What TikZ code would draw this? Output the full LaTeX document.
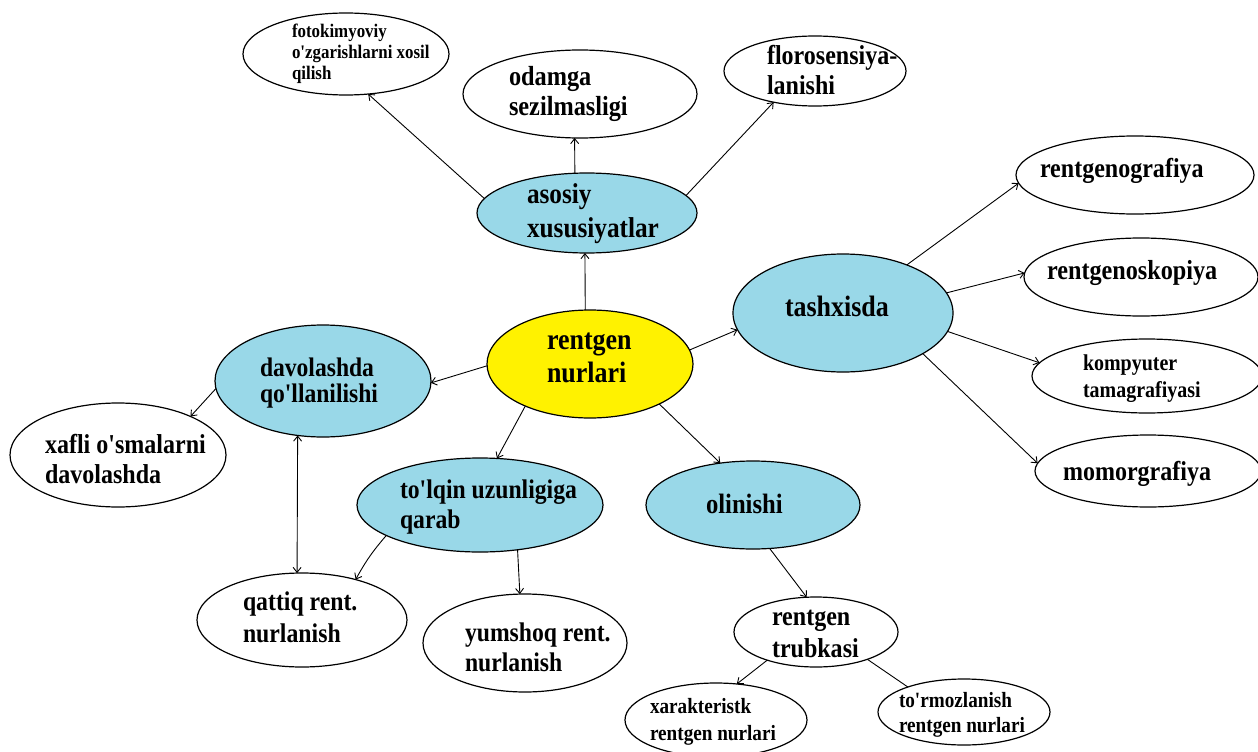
\documentclass[tikz,border=0pt]{standalone}
\usepackage{fontspec}
\newfontfamily\lab[FakeStretch=0.88,Ligatures=TeXOff]{Liberation Serif}
\usetikzlibrary{shapes.geometric,arrows.meta}
\definecolor{lblue}{RGB}{153,216,232}
\definecolor{lyellow}{RGB}{255,242,0}
\tikzset{
  ell/.style={draw=black, ellipse, line width=1.2pt, inner sep=0pt, outer sep=0pt},
  sz/.style 2 args={minimum width=#1pt, minimum height=#2pt},
  lbl/.style={anchor=base west, align=left, inner sep=0pt, outer sep=0pt},
  fs/.style 2 args={font=\lab\bfseries\fontsize{#1}{#2}\selectfont},
  con/.style={line width=0.9pt, -{Straight Barb[length=5pt,width=8pt]}},
  con2/.style={line width=0.9pt, {Straight Barb[length=5pt,width=8pt]}-{Straight Barb[length=5pt,width=8pt]}},
  link/.style={line width=0.9pt},
}
\begin{document}
\begin{tikzpicture}[x=1pt,y=-1pt]
\useasboundingbox (0,0) rectangle (1258,752);
\fill[white] (0,0) rectangle (1258,752);

% ellipses
\node[ell, sz={206}{82}] (foto) at (346,54) {};
\node[ell, sz={234}{88}] (odam) at (580,94) {};
\node[ell, sz={182}{70}] (floro) at (815,71) {};
\node[ell, fill=lblue, sz={220}{80}] (asos) at (587,213) {};
\node[ell, fill=lyellow, sz={206}{108}] (rent) at (590,364) {};
\node[ell, fill=lblue, sz={220}{118}] (tash) at (843,313) {};
\node[ell, sz={238}{78}] (graf) at (1135,175) {};
\node[ell, sz={234}{78}] (skop) at (1141,277) {};
\node[ell, sz={230}{74}] (komp) at (1147,376) {};
\node[ell, sz={226}{72}] (momo) at (1148,471) {};
\node[ell, fill=lblue, sz={216}{112}] (davo) at (323,381) {};
\node[ell, sz={216}{104}] (xafl) at (118,455) {};
\node[ell, fill=lblue, sz={246}{94}] (tolq) at (480,505) {};
\node[ell, fill=lblue, sz={214}{88}] (olin) at (753,505) {};
\node[ell, sz={210}{94}] (qatt) at (302,620) {};
\node[ell, sz={204}{98}] (yums) at (525,643) {};
\node[ell, sz={164}{70}] (trub) at (816,632) {};
\node[ell, sz={182}{74}] (xara) at (716,720) {};
\node[ell, sz={172}{66}] (torm) at (964,712) {};

% labels (anchored at the baseline of the last line)
\node[lbl, fs={19.2}{21}] (fotoT) at (292,79) {fotokimyoviy\\o'zgarishlarni xosil\\qilish};
\node[lbl, fs={27.6}{30}] (odamT) at (509,115) {odamga\\sezilmasligi};
\node[lbl, fs={27.3}{29}] (floroT) at (767,94) {florosensiya-\\lanishi};
\node[lbl, fs={28.7}{34}] (asosT) at (527,237) {asosiy\\xususiyatlar};
\node[lbl, fs={29.5}{33}] (rentT) at (547,382) {rentgen\\nurlari};
\node[lbl, fs={29.5}{33}] (tashT) at (785,316) {tashxisda};
\node[lbl, fs={27.3}{30}] (grafT) at (1040,177) {rentgenografiya};
\node[lbl, fs={27.5}{30}] (skopT) at (1047,279) {rentgenoskopiya};
\node[lbl, fs={22.7}{27}] (kompT) at (1083,397) {kompyuter\\tamagrafiyasi};
\node[lbl, fs={27.3}{30}] (momoT) at (1063,480) {momorgrafiya};
\node[lbl, fs={26.8}{26}] (davoT) at (260,402) {davolashda\\qo'llanilishi};
\node[lbl, fs={27.3}{30}] (xaflT) at (45,483) {xafli o'smalarni\\davolashda};
\node[lbl, fs={26.9}{30}] (tolqT) at (400,528) {to'lqin uzunligiga\\qarab};
\node[lbl, fs={28}{30}] (olinT) at (706,513) {olinishi};
\node[lbl, fs={27}{32}] (qattT) at (243,642) {qattiq rent.\\nurlanish};
\node[lbl, fs={26.9}{30}] (yumsT) at (465,671) {yumshoq rent.\\nurlanish};
\node[lbl, fs={27.3}{32}] (trubT) at (772,657) {rentgen\\trubkasi};
\node[lbl, fs={21.8}{27}] (xaraT) at (650,740) {xarakteristk\\rentgen nurlari};
\node[lbl, fs={21.8}{25}] (tormT) at (899,732) {to'rmozlanish\\rentgen nurlari};

% connectors
\draw[con] (rent.95) -- (asos.267);
\draw[con] (asos.107) -- (odam.263);
\draw[con] (asos.172) -- (foto.299);
\draw[con] (asos.10) -- (floro.217);
\draw[con] (rent.8) -- (tash.189);
\draw[con] (rent.181) -- (davo.359);
\draw[con] (rent.213) -- (tolq.70);
\draw[con] (rent.330) -- (olin.128);
\draw[con] (tash.37) -- (graf.184);
\draw[con] (tash.11) -- (skop.178);
\draw[con] (tash.350) -- (komp.173);
\draw[con] (tash.333) -- (momo.176);
\draw[con] (davo.184) -- (xafl.28);
\draw[con2] (davo.245) -- (qatt.96);
\draw[con] (tolq.198) to[bend right=6] (qatt.37);
\draw[con] (tolq.310) -- (yums.96);
\draw[con] (olin.291) -- (trub.105);
\draw[con] (trub.210) -- (xara.60);
\draw[link] (trub.332) -- (torm.156);
\end{tikzpicture}
\end{document}
